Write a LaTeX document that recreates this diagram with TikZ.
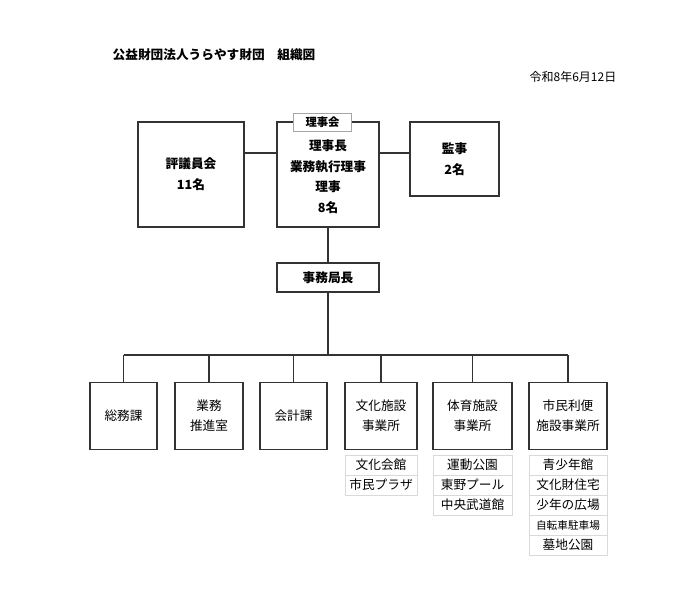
\documentclass[tikz,border=0pt]{standalone}
\usepackage{fontspec}
\setmainfont{Noto Sans CJK JP}
\usetikzlibrary{calc}
\tikzstyle{unit}=[draw, thick, draw=black!80, align=center, inner sep=0pt, font=\fontsize{9.5}{15}\selectfont]
\tikzstyle{head}=[unit, font=\fontsize{9.5}{15.5}\selectfont\bfseries]
\tikzstyle{item}=[draw=black!15, inner sep=0pt, font=\fontsize{9.5}{11}\selectfont]
\begin{document}
\begin{tikzpicture}[x=0.75pt, y=-0.75pt]
  \useasboundingbox (0,0) rectangle (690,602);
  % title
  \node[font=\fontsize{9.5}{11}\selectfont\bfseries, anchor=west] (title) at (108,55) {公益財団法人うらやす財団\quad 組織図};
  \node[font=\fontsize{9}{11}\selectfont, anchor=east] (date) at (621,77) {令和8年6月12日};
  % board
  \node[head, minimum width=106*0.75pt, minimum height=105*0.75pt] (council) at (191,174.5) {評議員会\\11名};
  \node[head, minimum width=102*0.75pt, minimum height=105*0.75pt] (board) at (328,174.5) {\\[-4pt]理事長\\業務執行理事\\理事\\8名};
  \node[draw=black!35, thick, fill=white, minimum width=58*0.75pt, minimum height=18*0.75pt, inner sep=0pt, font=\fontsize{8.5}{10}\selectfont\bfseries] (boardlbl) at (322.5,122.5) {理事会};
  \node[head, minimum width=89*0.75pt, minimum height=74*0.75pt] (audit) at (454.5,159) {監事\\2名};
  \node[head, minimum width=102*0.75pt, minimum height=29*0.75pt] (chief) at (328,277.5) {事務局長};
  \draw[thick, black!80] (council.east |- 0,153) -- (board.west |- 0,153);
  \draw[thick, black!80] (board.east |- 0,153) -- (audit.west |- 0,153);
  \draw[thick, black!80] (board) -- (chief);
  % sections
  \coordinate (bus) at (328,355);
  \foreach \name/\l/\r/\txt in {gen/90/157/総務課, prom/175/243/業務\\推進室, acc/260/327/会計課, cult/345/417/文化施設\\事業所, sport/433/512/体育施設\\事業所, civic/529/607/市民利便\\施設事業所}{
    \node[unit, minimum width={(\r-\l)*0.75pt}, minimum height=67*0.75pt] (\name) at ({(\l+\r)/2},416) {\txt};
    \draw[thick, black!80] (\name.north) -- (\name.north |- bus);
  }
  \draw[thick, black!80] (gen.north |- bus) -- (civic.north |- bus);
  \draw[thick, black!80] (chief) -- (bus);
  % facilities
  \foreach \col/\w/\list in {cult/72/{文化会館,市民プラザ}, sport/79/{運動公園,東野プール,中央武道館}, civic/78/{青少年館,文化財住宅,少年の広場,{\fontsize{8}{10}\selectfont 自転車駐車場},墓地公園}}{
    \foreach \f [count=\i] in \list {
      \node[item, minimum width=\w*0.75pt, minimum height=20*0.75pt] (\col-\i) at ($(\col.south)+(0,\i*20-5)$) {\f};
    }
  }
\end{tikzpicture}
\end{document}
